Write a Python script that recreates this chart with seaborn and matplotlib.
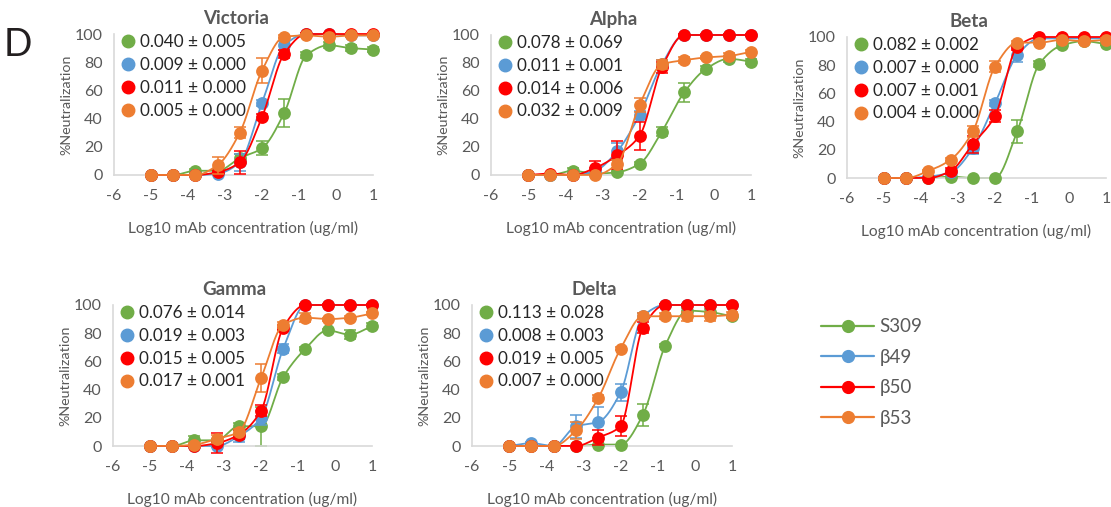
import matplotlib
matplotlib.use("Agg")
import matplotlib.pyplot as plt
from matplotlib.lines import Line2D
import seaborn as sns
import numpy as np
import pandas as pd

# log10 concentrations (4-fold dilution series)
log_conc = [-5, -4.4, -3.8, -3.2, -2.6, -2.0, -1.4, -0.8, -0.2, 0.4, 1.0]

mabs = ["S309", "β49", "β50", "β53"]
colors = ["#70ad47", "#5b9bd5", "#ff0000", "#ed7d31"]
panels = ["Victoria", "Alpha", "Beta", "Gamma", "Delta"]

# mean % neutralization, per panel, per mAb
victoria = [
    [0, 0, 3, 3, 12, 19, 44, 85, 92, 90, 89],
    [0, 0, 0, 1, 9, 51, 92, 100, 100, 99, 99],
    [0, 0, 0, 2, 9, 41, 86, 100, 100, 100, 100],
    [0, 0, 0, 7, 30, 74, 98, 99, 98, 99, 99],
]
alpha = [
    [0, 0, 3, 1, 2, 8, 31, 59, 76, 83, 81],
    [0, 0, 0, 3, 17, 43, 79, 100, 100, 100, 100],
    [0, 1, 0, 5, 14, 28, 77, 100, 100, 100, 100],
    [0, 0, 0, 0, 8, 50, 79, 82, 84, 85, 88],
]
beta = [
    [0, 0, 0, 1, 0, 0, 33, 81, 94, 97, 95],
    [0, 0, 1, 4, 21, 53, 87, 99, 99, 99, 99],
    [0, 0, 0, 5, 24, 44, 93, 100, 100, 100, 100],
    [0, 0, 5, 13, 33, 79, 96, 96, 98, 97, 98],
]
gamma = [
    [0, 0, 4, 4, 14, 14, 49, 69, 82, 79, 85],
    [0, 0, 0, 0, 7, 20, 69, 100, 100, 100, 100],
    [0, 0, 0, 2, 8, 25, 84, 100, 100, 100, 100],
    [0, 0, 1, 5, 10, 48, 86, 91, 90, 91, 94],
]
delta = [
    [0, 0, 0, 0, 1, 1, 22, 71, 96, 95, 92],
    [0, 2, 0, 14, 17, 38, 92, 100, 100, 100, 100],
    [0, 0, 0, 0, 6, 14, 84, 100, 100, 100, 100],
    [0, 0, 0, 11, 34, 69, 92, 92, 92, 92, 93],
]

# error bars (SEM)
victoria_err = [
    [0, 0, 1, 1, 3, 5, 10, 2, 2, 2, 2],
    [0, 0, 0, 1, 6, 2, 3, 1, 1, 1, 1],
    [0, 0, 0, 1, 8, 2, 3, 1, 1, 1, 1],
    [0, 0, 0, 6, 4, 9, 1, 1, 1, 1, 1],
]
alpha_err = [
    [0, 0, 2, 1, 1, 1, 3, 7, 2, 2, 2],
    [0, 0, 0, 2, 6, 3, 3, 1, 1, 1, 1],
    [0, 0, 0, 5, 10, 10, 4, 1, 1, 1, 1],
    [0, 0, 0, 0, 3, 5, 3, 2, 1, 2, 1],
]
beta_err = [
    [0, 0, 0, 0, 0, 0, 8, 2, 2, 1, 1],
    [0, 0, 0, 2, 4, 2, 5, 1, 1, 1, 1],
    [0, 0, 0, 2, 6, 4, 2, 1, 1, 1, 1],
    [0, 0, 1, 1, 4, 4, 1, 1, 1, 1, 1],
]
gamma_err = [
    [0, 0, 3, 1, 2, 14, 2, 1, 1, 3, 2],
    [0, 0, 0, 1, 4, 5, 3, 1, 1, 1, 1],
    [0, 0, 0, 7, 3, 4, 2, 1, 1, 1, 1],
    [0, 0, 1, 3, 2, 10, 2, 3, 1, 1, 1],
]
delta_err = [
    [0, 0, 0, 0, 0, 0, 8, 1, 2, 2, 1],
    [0, 1, 0, 8, 11, 6, 2, 1, 1, 1, 1],
    [0, 0, 0, 0, 5, 7, 4, 1, 1, 1, 1],
    [0, 0, 0, 6, 2, 1, 2, 2, 3, 3, 2],
]

# IC50 labels
victoria_ic50 = ["0.040 ± 0.005", "0.009 ± 0.000", "0.011 ± 0.000", "0.005 ± 0.000"]
alpha_ic50 = ["0.078 ± 0.069", "0.011 ± 0.001", "0.014 ± 0.006", "0.032 ± 0.009"]
beta_ic50 = ["0.082 ± 0.002", "0.007 ± 0.000", "0.007 ± 0.001", "0.004 ± 0.000"]
gamma_ic50 = ["0.076 ± 0.014", "0.019 ± 0.003", "0.015 ± 0.005", "0.017 ± 0.001"]
delta_ic50 = ["0.113 ± 0.028", "0.008 ± 0.003", "0.019 ± 0.005", "0.007 ± 0.000"]

values = [victoria, alpha, beta, gamma, delta]
errors = [victoria_err, alpha_err, beta_err, gamma_err, delta_err]
ic50s = [victoria_ic50, alpha_ic50, beta_ic50, gamma_ic50, delta_ic50]


def pchip(x, y, xs):
    # monotone cubic through the points, just to draw a smooth line
    x = np.asarray(x, float)
    y = np.asarray(y, float)
    h = np.diff(x)
    d = np.diff(y) / h
    m = np.zeros_like(y)
    for k in range(1, len(x) - 1):
        if d[k - 1] * d[k] > 0:
            w1 = 2 * h[k] + h[k - 1]
            w2 = h[k] + 2 * h[k - 1]
            m[k] = (w1 + w2) / (w1 / d[k - 1] + w2 / d[k])
    m[0], m[-1] = d[0], d[-1]
    idx = np.clip(np.searchsorted(x, xs) - 1, 0, len(x) - 2)
    t = (xs - x[idx]) / h[idx]
    h00 = 2 * t**3 - 3 * t**2 + 1
    h10 = t**3 - 2 * t**2 + t
    h01 = -2 * t**3 + 3 * t**2
    h11 = t**3 - t**2
    return h00 * y[idx] + h10 * h[idx] * m[idx] + h01 * y[idx + 1] + h11 * h[idx] * m[idx + 1]


sns.set_style("white")
plt.rcParams["font.family"] = ["Lato", "DejaVu Sans"]
plt.rcParams["axes.unicode_minus"] = False

W, H = 1111, 507
fig = plt.figure(figsize=(W / 100, H / 100), dpi=100)

# axes boxes in pixels: left, right, top, bottom
boxes = [(114, 373, 34, 175), (491, 751, 35, 175), (847, 1106, 37, 178),
         (113, 372, 305, 446), (472, 732, 305, 446)]

gray = "#595959"
spine = "#d9d9d9"
xs = np.linspace(-5, 1, 300)

for p, name in enumerate(panels):
    l, r, t, b = boxes[p]
    ax = fig.add_axes([l / W, (H - b) / H, (r - l) / W, (b - t) / H])
    for i, mab in enumerate(mabs):
        y = values[p][i]
        curve = pd.DataFrame({"x": xs, "y": np.clip(pchip(log_conc, y, xs), 0, 100)})
        sns.lineplot(data=curve, x="x", y="y", color=colors[i], lw=1.3, ax=ax,
                     clip_on=False, zorder=2 + i)
        ax.errorbar(log_conc, y, yerr=errors[p][i], fmt="none", ecolor=colors[i],
                    elinewidth=1.1, capsize=4, capthick=1.1, clip_on=False, zorder=2 + i)
        pts = pd.DataFrame({"x": log_conc, "y": y})
        sns.scatterplot(data=pts, x="x", y="y", color=colors[i], s=85, linewidth=0,
                        ax=ax, clip_on=False, zorder=3 + i)

    ax.set_xlim(-6, 1)
    ax.set_ylim(0, 100)
    ax.set_xticks(range(-6, 2))
    ax.set_yticks(range(0, 101, 20))
    for s in ["top", "right"]:
        ax.spines[s].set_visible(False)
    for s in ["left", "bottom"]:
        ax.spines[s].set_color(spine)
        ax.spines[s].set_linewidth(1.2)
    ax.tick_params(axis="both", colors=spine, labelcolor=gray, labelsize=11.5,
                   length=5, width=1.2, direction="out")
    ax.tick_params(axis="x", pad=5)
    ax.tick_params(axis="y", pad=3)
    ax.set_xlabel("Log10 mAb concentration (ug/ml)", color=gray, fontsize=11.2, labelpad=13)
    ax.set_ylabel("%Neutralization", color=gray, fontsize=10.3, labelpad=2)
    ax.set_title(name, color=gray, fontsize=13.5, fontweight="bold", pad=7, x=0.47)

    handles = [Line2D([], [], ls="", marker="o", ms=9, color=c) for c in colors]
    leg = ax.legend(handles, ic50s[p], loc="upper left", bbox_to_anchor=(0.02, 1.0),
                    frameon=False, handlelength=1.0, handletextpad=0.2,
                    labelspacing=0.4, borderaxespad=0, borderpad=0, fontsize=12.3)
    for txt in leg.get_texts():
        txt.set_color("#262626")

fig_handles = [Line2D([], [], color=c, lw=1.6, marker="o", ms=8.5) for c in colors]
fl = fig.legend(fig_handles, mabs, loc="upper left", bbox_to_anchor=(812 / W, 1 - 309 / H),
                frameon=False, handlelength=2.8, handletextpad=0.3, labelspacing=0.72,
                fontsize=13.5, borderpad=0)
for txt in fl.get_texts():
    txt.set_color(gray)

fig.text(4 / W, 1 - 56 / H, "D", fontsize=27, color="#231f20", ha="left", va="baseline")

fig.savefig("out.png", dpi=100)
